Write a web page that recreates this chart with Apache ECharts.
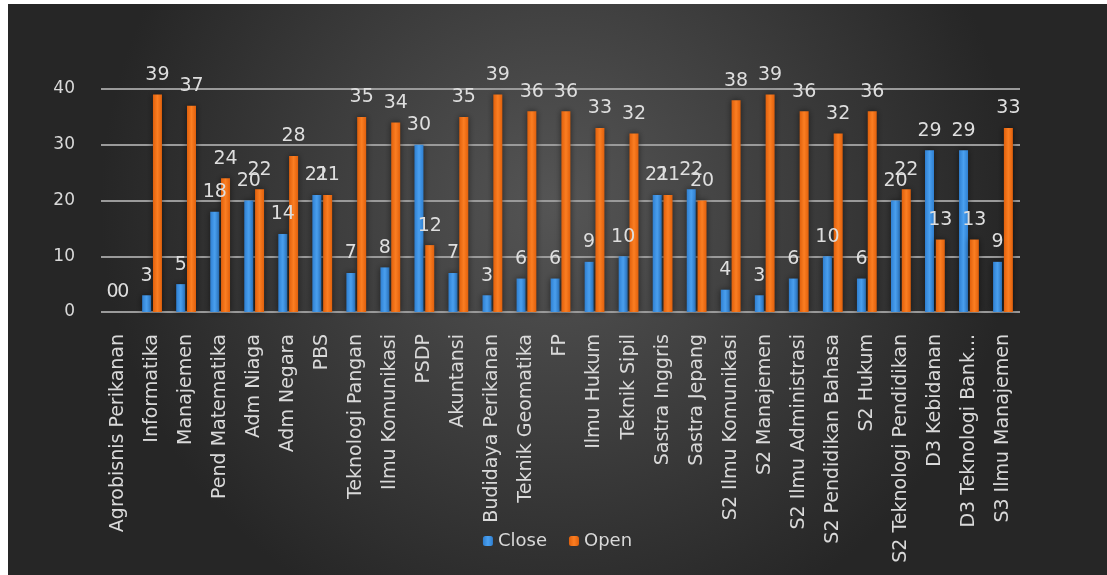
<!DOCTYPE html>
<html>
<head>
<meta charset="utf-8">
<script src="https://cdn.jsdelivr.net/npm/echarts@6/dist/echarts.min.js"></script>
<style>
html,body{margin:0;padding:0;background:#ffffff;width:1107px;height:575px;overflow:hidden;}
#chart{position:absolute;left:8px;top:4px;width:1099px;height:571px;}
</style>
</head>
<body>
<div id="chart"></div>
<script>
const categories = [
  "Agrobisnis Perikanan","Informatika","Manajemen","Pend Matematika","Adm Niaga","Adm Negara","PBS",
  "Teknologi Pangan","Ilmu Komunikasi","PSDP","Akuntansi","Budidaya Perikanan","Teknik Geomatika","FP",
  "Ilmu Hukum","Teknik Sipil","Sastra Inggris","Sastra Jepang","S2 Ilmu Komunikasi","S2 Manajemen",
  "S2 Ilmu Administrasi","S2 Pendidikan Bahasa","S2 Hukum","S2 Teknologi Pendidikan","D3 Kebidanan",
  "D3 Teknologi Bank...","S3 Ilmu Manajemen"
];
const closeValues = [0,3,5,18,20,14,21,7,8,30,7,3,6,6,9,10,21,22,4,3,6,10,6,20,29,29,9];
const openValues  = [0,39,37,24,22,28,21,35,34,12,35,39,36,36,33,32,21,20,38,39,36,32,36,22,13,13,33];
const yTicks = { min: 0, max: 40, interval: 10 };

const fontFam = '"DejaVu Sans", "Liberation Sans", sans-serif';
const chart = echarts.init(document.getElementById('chart'));

const labelStyle = {
  show: true,
  position: 'top',
  distance: 10,
  color: '#dedede',
  fontSize: 19,
  fontFamily: fontFam
};

chart.setOption({
  backgroundColor: {
    type: 'radial', x: 0.5, y: 0.35, r: 0.8,
    colorStops: [
      { offset: 0, color: '#555555' },
      { offset: 1, color: '#262626' }
    ]
  },
  animation: false,
  grid: { left: 93, right: 87, top: 85, bottom: 263, containLabel: false },
  legend: {
    data: ['Close', 'Open'],
    bottom: 20,
    left: 'center',
    itemWidth: 10,
    itemHeight: 10,
    itemGap: 22,
    textStyle: { color: '#d9d9d9', fontSize: 18, fontFamily: fontFam }
  },
  xAxis: {
    type: 'category',
    data: categories,
    axisLine: { show: false },
    axisTick: { show: false },
    axisLabel: {
      rotate: 90,
      interval: 0,
      margin: 22,
      color: '#d9d9d9',
      fontSize: 19,
      fontFamily: fontFam
    }
  },
  yAxis: {
    type: 'value',
    min: yTicks.min,
    max: yTicks.max,
    interval: yTicks.interval,
    axisLine: { show: false },
    axisTick: { show: false },
    axisLabel: { color: '#d9d9d9', fontSize: 17, margin: 26, fontFamily: fontFam },
    splitLine: { lineStyle: { color: '#9a9a9a', width: 2 } }
  },
  series: [
    {
      name: 'Close',
      type: 'bar',
      data: closeValues,
      barWidth: 9,
      barGap: '20%',
      itemStyle: {
        color: {
          type: 'linear', x: 0, y: 0, x2: 1, y2: 0,
          colorStops: [
            { offset: 0, color: '#2f7fd0' },
            { offset: 0.5, color: '#4aa0f0' },
            { offset: 1, color: '#2f7fd0' }
          ]
        },
        shadowColor: 'rgba(0,0,0,0.55)',
        shadowBlur: 6
      },
      label: labelStyle
    },
    {
      name: 'Open',
      type: 'bar',
      data: openValues,
      barWidth: 9,
      itemStyle: {
        color: {
          type: 'linear', x: 0, y: 0, x2: 1, y2: 0,
          colorStops: [
            { offset: 0, color: '#e0600c' },
            { offset: 0.5, color: '#fb7e22' },
            { offset: 1, color: '#e0600c' }
          ]
        },
        shadowColor: 'rgba(0,0,0,0.55)',
        shadowBlur: 6
      },
      label: labelStyle
    }
  ]
});
</script>
</body>
</html>
